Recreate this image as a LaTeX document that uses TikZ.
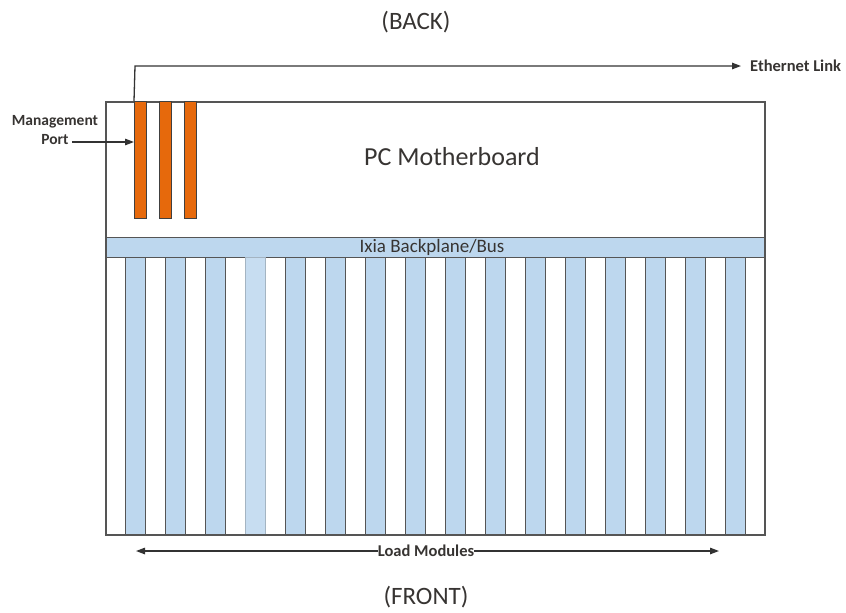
\documentclass[tikz,border=0pt]{standalone}
\usepackage{fontspec}
\setmainfont{Carlito}
\usepackage{tikz}
\usetikzlibrary{arrows.meta}

\definecolor{busblue}{RGB}{189,215,238}
\definecolor{portorange}{RGB}{230,105,12}
\definecolor{edgegray}{RGB}{85,85,85}
\definecolor{txtgray}{RGB}{55,52,50}

\tikzset{
  slot/.style={fill=busblue, draw=edgegray, line width=1.3pt, inner sep=0pt,
    minimum width=20pt, minimum height=277pt, anchor=north west},
  port/.style={fill=portorange, draw=black!75, line width=0.9pt, inner sep=0pt,
    minimum width=12pt, minimum height=117pt, anchor=north west},
  lbl/.style={text=txtgray, inner sep=0pt},
  small/.style={lbl, font=\bfseries\fontsize{16.5}{19}\selectfont},
  link/.style={draw=black!80, line width=1.3pt, -{Triangle[length=9pt,width=6.5pt]}},
}

\begin{document}
\begin{tikzpicture}[x=1pt,y=-1pt]
\useasboundingbox (0,0) rectangle (846,613);

\node[lbl, font=\fontsize{25}{30}\selectfont] (back) at (416,22) {(BACK)};
\node[lbl, font=\fontsize{25}{30}\selectfont] (front) at (426,597) {(FRONT)};

% backplane and load modules
\node[fill=busblue, draw=edgegray, line width=1.3pt, inner sep=0pt,
  minimum width=659pt, minimum height=20pt, anchor=north west] (bus) at (105,237) {};
\node[lbl, font=\fontsize{19}{21}\selectfont] (buslabel) at (432,247) {Ixia Backplane/Bus};
\foreach \k in {0,...,15}
  \node[slot] (mod\k) at ({125+40*\k},257) {};
\node[slot, fill=busblue!85, draw=busblue!60!gray] (mod3) at (245,257) {};

% chassis
\node[draw=edgegray, line width=1.8pt, inner sep=0pt, minimum width=659pt,
  minimum height=433pt, anchor=north west] (chassis) at (105,101) {};
\node[lbl, font=\fontsize{26}{30}\selectfont] (mobo) at (452,157) {PC Motherboard};

% ports
\foreach \i/\x in {1/134,2/159,3/184}
  \node[port] (port\i) at (\x,101) {};

% management port
\node[small, font=\bfseries\fontsize{15.5}{19}\selectfont] (mgmt) at (55,122) {Management};
\node[small, font=\bfseries\fontsize{15.5}{19}\selectfont] (mgmtport) at (55,140) {Port};
\draw[link] ([xshift=3pt,yshift=-2pt]mgmtport.east) -- ([yshift=-2pt]port1.west |- mgmtport.east);

% ethernet link
\node[small, anchor=west] (eth) at (750,66) {Ethernet Link};
\coordinate (ethbend) at (135,66);
\draw[link, shorten >=9pt] (port1.north west) -- (ethbend) -- (eth.west);

% load modules
\node[small, fill=white] (loadmod) at (426,551) {Load Modules};
\coordinate (lmleft) at (136,551);
\coordinate (lmright) at (719,551);
\draw[link] (loadmod.west) -- (lmleft);
\draw[link] (loadmod.east) -- (lmright);
\end{tikzpicture}
\end{document}
